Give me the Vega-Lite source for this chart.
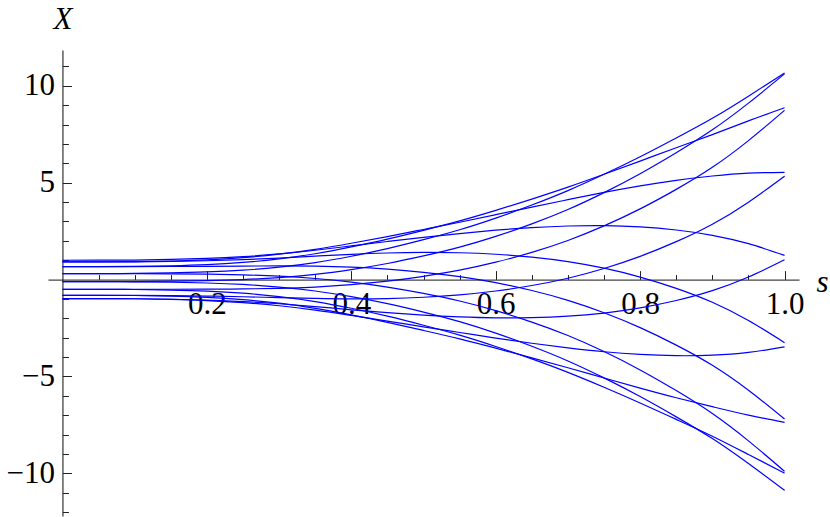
{
  "$schema": "https://vega.github.io/schema/vega-lite/v6.json",
  "autosize": {"type": "none"},
  "width": 751,
  "height": 466,
  "padding": {"left": 48, "top": 50, "right": 31, "bottom": 1},
  "background": "white",
  "config": {"view": {"stroke": null}, "axis": {"grid": false}},
  "data": {"values": [
    {"k":0,"s":0,"X":1},{"k":0,"s":0.05,"X":1.002},{"k":0,"s":0.1,"X":1.01},{"k":0,"s":0.15,"X":1.041},{"k":0,"s":0.2,"X":1.092},{"k":0,"s":0.25,"X":1.184},{"k":0,"s":0.3,"X":1.327},{"k":0,"s":0.35,"X":1.516},{"k":0,"s":0.4,"X":1.741},{"k":0,"s":0.45,"X":1.966},{"k":0,"s":0.5,"X":2.183},{"k":0,"s":0.55,"X":2.378},{"k":0,"s":0.6,"X":2.551},{"k":0,"s":0.65,"X":2.684},{"k":0,"s":0.7,"X":2.767},{"k":0,"s":0.75,"X":2.785},{"k":0,"s":0.8,"X":2.72},{"k":0,"s":0.85,"X":2.559},{"k":0,"s":0.9,"X":2.286},{"k":0,"s":0.95,"X":1.854},{"k":0,"s":1,"X":1.251},
    {"k":1,"s":0,"X":0.914},{"k":1,"s":0.05,"X":0.916},{"k":1,"s":0.1,"X":0.925},{"k":1,"s":0.15,"X":0.961},{"k":1,"s":0.2,"X":1.022},{"k":1,"s":0.25,"X":1.133},{"k":1,"s":0.3,"X":1.313},{"k":1,"s":0.35,"X":1.56},{"k":1,"s":0.4,"X":1.877},{"k":1,"s":0.45,"X":2.221},{"k":1,"s":0.5,"X":2.587},{"k":1,"s":0.55,"X":2.959},{"k":1,"s":0.6,"X":3.351},{"k":1,"s":0.65,"X":3.744},{"k":1,"s":0.7,"X":4.126},{"k":1,"s":0.75,"X":4.5},{"k":1,"s":0.8,"X":4.837},{"k":1,"s":0.85,"X":5.125},{"k":1,"s":0.9,"X":5.347},{"k":1,"s":0.95,"X":5.497},{"k":1,"s":1,"X":5.539},
    {"k":2,"s":0,"X":0.669},{"k":2,"s":0.05,"X":0.671},{"k":2,"s":0.1,"X":0.68},{"k":2,"s":0.15,"X":0.715},{"k":2,"s":0.2,"X":0.775},{"k":2,"s":0.25,"X":0.887},{"k":2,"s":0.3,"X":1.071},{"k":2,"s":0.35,"X":1.335},{"k":2,"s":0.4,"X":1.688},{"k":2,"s":0.45,"X":2.091},{"k":2,"s":0.5,"X":2.544},{"k":2,"s":0.55,"X":3.028},{"k":2,"s":0.6,"X":3.572},{"k":2,"s":0.65,"X":4.156},{"k":2,"s":0.7,"X":4.772},{"k":2,"s":0.75,"X":5.437},{"k":2,"s":0.8,"X":6.118},{"k":2,"s":0.85,"X":6.805},{"k":2,"s":0.9,"X":7.483},{"k":2,"s":0.95,"X":8.191},{"k":2,"s":1,"X":8.869},
    {"k":3,"s":0,"X":0.309},{"k":3,"s":0.05,"X":0.311},{"k":3,"s":0.1,"X":0.318},{"k":3,"s":0.15,"X":0.346},{"k":3,"s":0.2,"X":0.395},{"k":3,"s":0.25,"X":0.487},{"k":3,"s":0.3,"X":0.644},{"k":3,"s":0.35,"X":0.879},{"k":3,"s":0.4,"X":1.207},{"k":3,"s":0.45,"X":1.6},{"k":3,"s":0.5,"X":2.061},{"k":3,"s":0.55,"X":2.574},{"k":3,"s":0.6,"X":3.176},{"k":3,"s":0.65,"X":3.85},{"k":3,"s":0.7,"X":4.594},{"k":3,"s":0.75,"X":5.434},{"k":3,"s":0.8,"X":6.342},{"k":3,"s":0.85,"X":7.31},{"k":3,"s":0.9,"X":8.326},{"k":3,"s":0.95,"X":9.469},{"k":3,"s":1,"X":10.667},
    {"k":4,"s":0,"X":-0.105},{"k":4,"s":0.05,"X":-0.104},{"k":4,"s":0.1,"X":-0.099},{"k":4,"s":0.15,"X":-0.083},{"k":4,"s":0.2,"X":-0.055},{"k":4,"s":0.25,"X":0.002},{"k":4,"s":0.3,"X":0.106},{"k":4,"s":0.35,"X":0.271},{"k":4,"s":0.4,"X":0.518},{"k":4,"s":0.45,"X":0.832},{"k":4,"s":0.5,"X":1.221},{"k":4,"s":0.55,"X":1.675},{"k":4,"s":0.6,"X":2.23},{"k":4,"s":0.65,"X":2.878},{"k":4,"s":0.7,"X":3.62},{"k":4,"s":0.75,"X":4.491},{"k":4,"s":0.8,"X":5.468},{"k":4,"s":0.85,"X":6.549},{"k":4,"s":0.9,"X":7.728},{"k":4,"s":0.95,"X":9.108},{"k":4,"s":1,"X":10.619},
    {"k":5,"s":0,"X":-0.5},{"k":5,"s":0.05,"X":-0.5},{"k":5,"s":0.1,"X":-0.5},{"k":5,"s":0.15,"X":-0.498},{"k":5,"s":0.2,"X":-0.494},{"k":5,"s":0.25,"X":-0.482},{"k":5,"s":0.3,"X":-0.451},{"k":5,"s":0.35,"X":-0.384},{"k":5,"s":0.4,"X":-0.261},{"k":5,"s":0.45,"X":-0.08},{"k":5,"s":0.5,"X":0.17},{"k":5,"s":0.55,"X":0.486},{"k":5,"s":0.6,"X":0.899},{"k":5,"s":0.65,"X":1.408},{"k":5,"s":0.7,"X":2.021},{"k":5,"s":0.75,"X":2.772},{"k":5,"s":0.8,"X":3.649},{"k":5,"s":0.85,"X":4.656},{"k":5,"s":0.9,"X":5.795},{"k":5,"s":0.95,"X":7.173},{"k":5,"s":1,"X":8.735},
    {"k":6,"s":0,"X":-0.809},{"k":6,"s":0.05,"X":-0.81},{"k":6,"s":0.1,"X":-0.814},{"k":6,"s":0.15,"X":-0.827},{"k":6,"s":0.2,"X":-0.849},{"k":6,"s":0.25,"X":-0.884},{"k":6,"s":0.3,"X":-0.93},{"k":6,"s":0.35,"X":-0.972},{"k":6,"s":0.4,"X":-0.995},{"k":6,"s":0.45,"X":-0.977},{"k":6,"s":0.5,"X":-0.91},{"k":6,"s":0.55,"X":-0.786},{"k":6,"s":0.6,"X":-0.588},{"k":6,"s":0.65,"X":-0.305},{"k":6,"s":0.7,"X":0.072},{"k":6,"s":0.75,"X":0.573},{"k":6,"s":0.8,"X":1.199},{"k":6,"s":0.85,"X":1.959},{"k":6,"s":0.9,"X":2.859},{"k":6,"s":0.95,"X":3.998},{"k":6,"s":1,"X":5.342},
    {"k":7,"s":0,"X":-0.978},{"k":7,"s":0.05,"X":-0.98},{"k":7,"s":0.1,"X":-0.987},{"k":7,"s":0.15,"X":-1.013},{"k":7,"s":0.2,"X":-1.056},{"k":7,"s":0.25,"X":-1.132},{"k":7,"s":0.3,"X":-1.247},{"k":7,"s":0.35,"X":-1.393},{"k":7,"s":0.4,"X":-1.557},{"k":7,"s":0.45,"X":-1.706},{"k":7,"s":0.5,"X":-1.833},{"k":7,"s":0.55,"X":-1.923},{"k":7,"s":0.6,"X":-1.973},{"k":7,"s":0.65,"X":-1.965},{"k":7,"s":0.7,"X":-1.889},{"k":7,"s":0.75,"X":-1.725},{"k":7,"s":0.8,"X":-1.458},{"k":7,"s":0.85,"X":-1.078},{"k":7,"s":0.9,"X":-0.571},{"k":7,"s":0.95,"X":0.131},{"k":7,"s":1,"X":1.024},
    {"k":8,"s":0,"X":-0.978},{"k":8,"s":0.05,"X":-0.98},{"k":8,"s":0.1,"X":-0.989},{"k":8,"s":0.15,"X":-1.023},{"k":8,"s":0.2,"X":-1.081},{"k":8,"s":0.25,"X":-1.185},{"k":8,"s":0.3,"X":-1.35},{"k":8,"s":0.35,"X":-1.572},{"k":8,"s":0.4,"X":-1.849},{"k":8,"s":0.45,"X":-2.14},{"k":8,"s":0.5,"X":-2.439},{"k":8,"s":0.55,"X":-2.728},{"k":8,"s":0.6,"X":-3.017},{"k":8,"s":0.65,"X":-3.286},{"k":8,"s":0.7,"X":-3.523},{"k":8,"s":0.75,"X":-3.724},{"k":8,"s":0.8,"X":-3.863},{"k":8,"s":0.85,"X":-3.928},{"k":8,"s":0.9,"X":-3.902},{"k":8,"s":0.95,"X":-3.758},{"k":8,"s":1,"X":-3.471},
    {"k":9,"s":0,"X":-0.809},{"k":9,"s":0.05,"X":-0.811},{"k":9,"s":0.1,"X":-0.821},{"k":9,"s":0.15,"X":-0.857},{"k":9,"s":0.2,"X":-0.919},{"k":9,"s":0.25,"X":-1.033},{"k":9,"s":0.3,"X":-1.218},{"k":9,"s":0.35,"X":-1.48},{"k":9,"s":0.4,"X":-1.822},{"k":9,"s":0.45,"X":-2.204},{"k":9,"s":0.5,"X":-2.623},{"k":9,"s":0.55,"X":-3.06},{"k":9,"s":0.6,"X":-3.539},{"k":9,"s":0.65,"X":-4.038},{"k":9,"s":0.7,"X":-4.549},{"k":9,"s":0.75,"X":-5.08},{"k":9,"s":0.8,"X":-5.601},{"k":9,"s":0.85,"X":-6.099},{"k":9,"s":0.9,"X":-6.559},{"k":9,"s":0.95,"X":-6.997},{"k":9,"s":1,"X":-7.365},
    {"k":10,"s":0,"X":-0.5},{"k":10,"s":0.05,"X":-0.502},{"k":10,"s":0.1,"X":-0.51},{"k":10,"s":0.15,"X":-0.542},{"k":10,"s":0.2,"X":-0.598},{"k":10,"s":0.25,"X":-0.702},{"k":10,"s":0.3,"X":-0.877},{"k":10,"s":0.35,"X":-1.132},{"k":10,"s":0.4,"X":-1.48},{"k":10,"s":0.45,"X":-1.887},{"k":10,"s":0.5,"X":-2.354},{"k":10,"s":0.55,"X":-2.864},{"k":10,"s":0.6,"X":-3.45},{"k":10,"s":0.65,"X":-4.092},{"k":10,"s":0.7,"X":-4.788},{"k":10,"s":0.75,"X":-5.557},{"k":10,"s":0.8,"X":-6.369},{"k":10,"s":0.85,"X":-7.215},{"k":10,"s":0.9,"X":-8.081},{"k":10,"s":0.95,"X":-9.027},{"k":10,"s":1,"X":-9.986},
    {"k":11,"s":0,"X":-0.105},{"k":11,"s":0.05,"X":-0.106},{"k":11,"s":0.1,"X":-0.112},{"k":11,"s":0.15,"X":-0.134},{"k":11,"s":0.2,"X":-0.174},{"k":11,"s":0.25,"X":-0.25},{"k":11,"s":0.3,"X":-0.383},{"k":11,"s":0.35,"X":-0.588},{"k":11,"s":0.4,"X":-0.882},{"k":11,"s":0.45,"X":-1.243},{"k":11,"s":0.5,"X":-1.677},{"k":11,"s":0.55,"X":-2.172},{"k":11,"s":0.6,"X":-2.763},{"k":11,"s":0.65,"X":-3.439},{"k":11,"s":0.7,"X":-4.198},{"k":11,"s":0.75,"X":-5.073},{"k":11,"s":0.8,"X":-6.037},{"k":11,"s":0.85,"X":-7.084},{"k":11,"s":0.9,"X":-8.206},{"k":11,"s":0.95,"X":-9.495},{"k":11,"s":1,"X":-10.88},
    {"k":12,"s":0,"X":0.309},{"k":12,"s":0.05,"X":0.308},{"k":12,"s":0.1,"X":0.306},{"k":12,"s":0.15,"X":0.297},{"k":12,"s":0.2,"X":0.281},{"k":12,"s":0.25,"X":0.245},{"k":12,"s":0.3,"X":0.177},{"k":12,"s":0.35,"X":0.058},{"k":12,"s":0.4,"X":-0.131},{"k":12,"s":0.45,"X":-0.385},{"k":12,"s":0.5,"X":-0.711},{"k":12,"s":0.55,"X":-1.105},{"k":12,"s":0.6,"X":-1.6},{"k":12,"s":0.65,"X":-2.191},{"k":12,"s":0.7,"X":-2.884},{"k":12,"s":0.75,"X":-3.713},{"k":12,"s":0.8,"X":-4.661},{"k":12,"s":0.85,"X":-5.728},{"k":12,"s":0.9,"X":-6.913},{"k":12,"s":0.95,"X":-8.323},{"k":12,"s":1,"X":-9.894},
    {"k":13,"s":0,"X":0.669},{"k":13,"s":0.05,"X":0.67},{"k":13,"s":0.1,"X":0.671},{"k":13,"s":0.15,"X":0.677},{"k":13,"s":0.2,"X":0.686},{"k":13,"s":0.25,"X":0.698},{"k":13,"s":0.3,"X":0.706},{"k":13,"s":0.35,"X":0.693},{"k":13,"s":0.4,"X":0.642},{"k":13,"s":0.45,"X":0.54},{"k":13,"s":0.5,"X":0.378},{"k":13,"s":0.55,"X":0.153},{"k":13,"s":0.6,"X":-0.159},{"k":13,"s":0.65,"X":-0.564},{"k":13,"s":0.7,"X":-1.07},{"k":13,"s":0.75,"X":-1.71},{"k":13,"s":0.8,"X":-2.478},{"k":13,"s":0.85,"X":-3.381},{"k":13,"s":0.9,"X":-4.423},{"k":13,"s":0.95,"X":-5.71},{"k":13,"s":1,"X":-7.195},
    {"k":14,"s":0,"X":0.914},{"k":14,"s":0.05,"X":0.915},{"k":14,"s":0.1,"X":0.92},{"k":14,"s":0.15,"X":0.94},{"k":14,"s":0.2,"X":0.974},{"k":14,"s":0.25,"X":1.03},{"k":14,"s":0.3,"X":1.113},{"k":14,"s":0.35,"X":1.209},{"k":14,"s":0.4,"X":1.304},{"k":14,"s":0.45,"X":1.372},{"k":14,"s":0.5,"X":1.402},{"k":14,"s":0.55,"X":1.385},{"k":14,"s":0.6,"X":1.309},{"k":14,"s":0.65,"X":1.161},{"k":14,"s":0.7,"X":0.929},{"k":14,"s":0.75,"X":0.589},{"k":14,"s":0.8,"X":0.132},{"k":14,"s":0.85,"X":-0.45},{"k":14,"s":0.9,"X":-1.17},{"k":14,"s":0.95,"X":-2.111},{"k":14,"s":1,"X":-3.254}
  ]},
  "mark": {"type": "line", "color": "#0000ff", "strokeWidth": 1.2, "interpolate": "natural"},
  "encoding": {
    "x": {
      "field": "s", "type": "quantitative",
      "scale": {"domain": [-0.02, 1.02], "nice": false, "zero": false},
      "axis": {
        "orient": "bottom", "offset": -236.4,
        "values": [0.05, 0.1, 0.15, 0.2, 0.25, 0.3, 0.35, 0.4, 0.45, 0.5, 0.55, 0.6, 0.65, 0.7, 0.75, 0.8, 0.85, 0.9, 0.95, 1.0],
        "domainColor": "#444", "domainWidth": 1.2,
        "tickColor": "#222", "tickWidth": 1,
        "tickSize": {"condition": {"test": "abs(datum.value*5 - round(datum.value*5)) < 0.001", "value": -9}, "value": -5},
        "labelExpr": "abs(datum.value*5 - round(datum.value*5)) < 0.001 ? format(datum.value, '.1f') : ''",
        "labelFont": "Liberation Serif, Times New Roman, Times, serif", "labelFontSize": 31, "labelColor": "black",
        "labelPadding": 19, "labelFlush": false, "labelOverlap": false, "labelBound": false,
        "title": "s", "titleFont": "Liberation Serif, Times New Roman, Times, serif", "titleFontSize": 31, "titleFontStyle": "italic", "titleFontWeight": "normal",
        "titleColor": "black", "titleAngle": 0, "titleX": 768, "titleY": 11.5, "titleAlign": "left", "titleBaseline": "alphabetic"
      }
    },
    "y": {
      "field": "X", "type": "quantitative",
      "scale": {"domain": [-12.2, 11.85], "nice": false, "zero": false},
      "axis": {
        "orient": "left", "offset": -14.44,
        "values": [-12, -11, -10, -9, -8, -7, -6, -5, -4, -3, -2, -1, 1, 2, 3, 4, 5, 6, 7, 8, 9, 10, 11],
        "domainColor": "#222", "domainWidth": 1.1,
        "tickColor": "#222", "tickWidth": 1,
        "tickSize": {"condition": {"test": "datum.value % 5 === 0", "value": -9}, "value": -6},
        "labelExpr": "datum.value % 5 === 0 ? format(datum.value, 'd') : ''",
        "labelFont": "Liberation Serif, Times New Roman, Times, serif", "labelFontSize": 31, "labelColor": "black",
        "labelPadding": 17, "labelOverlap": false, "labelBound": false, "labelFlush": false,
        "title": "X", "titleFont": "Liberation Serif, Times New Roman, Times, serif", "titleFontSize": 31, "titleFontStyle": "italic", "titleFontWeight": "normal",
        "titleColor": "black", "titleAngle": 0, "titleX": 0, "titleY": -22, "titleAlign": "center", "titleBaseline": "alphabetic"
      }
    },
    "detail": {"field": "k", "type": "nominal"}
  }
}
